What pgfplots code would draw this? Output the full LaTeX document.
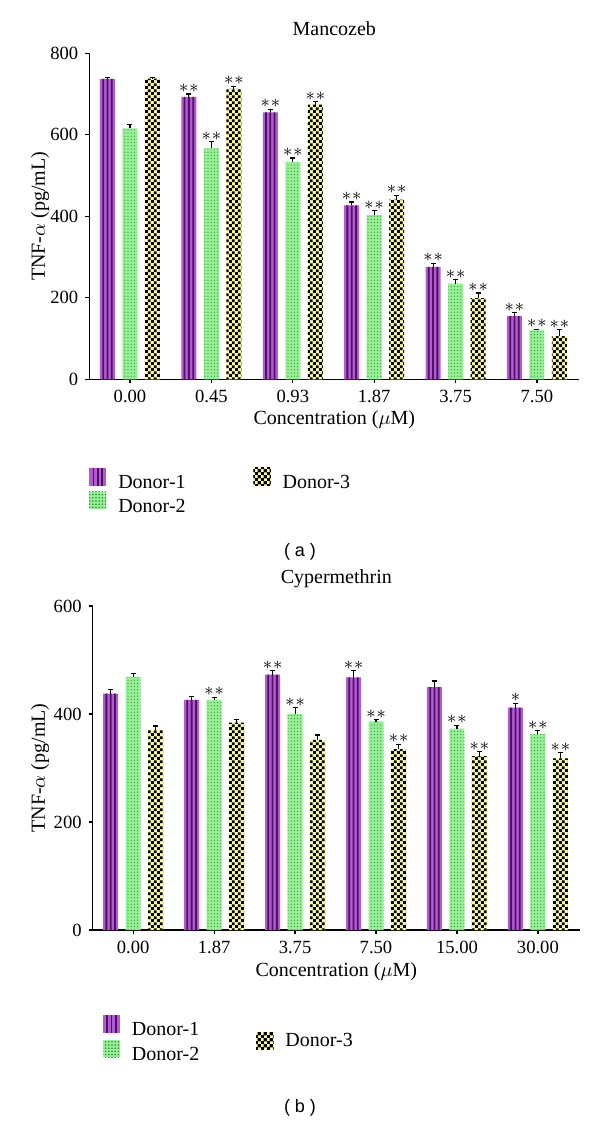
\documentclass[border=0pt]{standalone}
\usepackage{pgfplots}
\pgfplotsset{compat=1.18}
\usepackage{pgfplotstable}
\usepackage{fontspec}
\setmainfont{Liberation Serif}
\newfontfamily\sansf{Liberation Sans}
\usetikzlibrary{patterns}

\definecolor{purA}{RGB}{178,90,212}
\definecolor{purD}{RGB}{78,18,98}
\definecolor{grnA}{RGB}{150,240,150}
\definecolor{grnD}{RGB}{50,140,50}
\definecolor{yelA}{RGB}{250,250,160}

\pgfdeclarepatternformonly{mydots}{\pgfqpoint{-0.4pt}{-0.4pt}}{\pgfqpoint{0.4pt}{0.4pt}}{\pgfqpoint{1.6pt}{1.6pt}}{%
  \pgfpathcircle{\pgfqpoint{0pt}{0pt}}{0.32pt}\pgfusepath{fill}}
\pgfdeclarepatternformonly{mychecker}{\pgfpointorigin}{\pgfqpoint{2.9pt}{2.9pt}}{\pgfqpoint{2.9pt}{2.9pt}}{%
  \pgfpathrectangle{\pgfpointorigin}{\pgfqpoint{1.45pt}{1.45pt}}%
  \pgfpathrectangle{\pgfqpoint{1.45pt}{1.45pt}}{\pgfqpoint{1.45pt}{1.45pt}}%
  \pgfusepath{fill}}

\newcommand\stars[1]{\ifcase#1\relax\or${\ast}$\or${\ast}\mkern1mu{\ast}$\fi}

% Mancozeb
\pgfplotstableread{
x y err s
0 737 4 0
1 693 7 2
2 655 8 2
3 427 8 2
4 276 9 2
5 155 8 2
}\mA
\pgfplotstableread{
x y err s
0 616 9 0
1 567 16 2
2 533 10 2
3 403 11 2
4 235 9 2
5 120 3 2
}\mB
\pgfplotstableread{
x y err s
0 738 3 0
1 713 6 2
2 674 7 2
3 441 11 2
4 199 13 2
5 106 16 2
}\mC
% Cypermethrin
\pgfplotstableread{
x y err s
0 438 8 0
1 426 6 0
2 473 7 2
3 468 12 2
4 450 11 0
5 412 8 1
}\cA
\pgfplotstableread{
x y err s
0 469 6 0
1 426 5 2
2 400 12 2
3 386 4 2
4 373 6 2
5 363 6 2
}\cB
\pgfplotstableread{
x y err s
0 370 8 0
1 384 6 0
2 352 9 0
3 335 9 2
4 322 8 2
5 318 10 2
}\cC

\pgfplotsset{
  mainbar/.style={draw=none,
    error bars/.cd, y dir=plus, y explicit,
      error bar style={black, line width=0.55pt},
      error mark options={rotate=90, black, line width=0.6pt, mark size=1.25pt},
    /pgfplots/.cd,
    point meta=explicit symbolic,
    nodes near coords={\stars{\pgfplotspointmeta}},
    visualization depends on={\thisrow{err}\as\myerr},
    every node near coord/.append style={anchor=south, inner sep=0.5pt,
      font=\fontsize{9.5}{10}\selectfont, black,
      shift={(axis direction cs:0,\myerr)}}},
  stripe/.style={fill=purD, draw=none, bar width=0.9pt, forget plot},
  purlegend/.style={legend image code/.code={
      \fill[purA] (0pt,-1pt) rectangle (8.5pt,7.8pt);
      \fill[purD] (1.65pt,-1pt) rectangle (2.55pt,7.8pt);
      \fill[purD] (3.8pt,-1pt) rectangle (4.7pt,7.8pt);
      \fill[purD] (5.95pt,-1pt) rectangle (6.85pt,7.8pt);}},
  grnlegend/.style={legend image code/.code={
      \fill[grnA] (0pt,-1pt) rectangle (8.5pt,7.8pt);
      \fill[pattern=mydots, pattern color=grnD] (0pt,-1pt) rectangle (8.5pt,7.8pt);}},
  yellegend/.style={legend image code/.code={
      \fill[yelA] (0pt,-1pt) rectangle (8.5pt,7.8pt);
      \fill[pattern=mychecker, pattern color=black] (0pt,-1pt) rectangle (8.5pt,7.8pt);}},
  myaxis/.style={
    scale only axis, ybar, bar width=7.5pt,
    axis x line*=bottom, axis y line*=left,
    xmin=-0.5, xmax=5.52, ymin=0,
    xtick={0,...,5},
    tick align=outside, major tick length=2pt,
    tick style={black, line width=0.6pt},
    axis line style={black, line width=0.65pt},
    tick label style={font=\fontsize{9.3}{11}\selectfont},
    /pgf/number format/assume math mode=true,
    every axis title/.style={font=\fontsize{10}{12}\selectfont, anchor=center},
    every axis x label/.style={font=\fontsize{10}{12}\selectfont, anchor=center},
    every axis y label/.style={font=\fontsize{10}{12}\selectfont, anchor=center, rotate=90},
    xlabel={Concentration ($\mu$M)},
    ylabel={TNF-$\alpha$ (pg/mL)},
    legend columns=2,
    legend cell align=left,
    legend style={anchor=north west, draw=none, fill=none, inner sep=0pt, outer sep=0pt,
      font=\fontsize{10}{12}\selectfont,
      nodes={inner sep=0pt},
      /tikz/every odd column/.append style={column sep=6pt}},
  }
}

\begin{document}
\begin{tikzpicture}
\path[use as bounding box] (0,0) rectangle (300pt,-562.5pt);

\begin{axis}[myaxis, at={(44.65pt,-189.65pt)}, anchor=south west,
  width=245pt, height=163pt, ymax=800, ytick={0,200,...,800},
  xticklabels={0.00,0.45,0.93,1.87,3.75,7.50},
  title={Mancozeb},
  every axis title/.append style={at={(0.5,1.077)}},
  every axis x label/.append style={at={(0.5,-0.125)}},
  every axis y label/.append style={at={(-0.1006,0.5)}},
  legend style={at={(axis description cs:0,-0.272)}, row sep=0pt,
    /tikz/every even column/.append style={column sep=34pt}},
  legend entries={Donor-1,Donor-3,Donor-2}]
\addplot[mainbar, fill=purA, bar shift=-11.25pt, purlegend] table[x=x,y=y,y error=err,meta=s]{\mA};
\addplot[stripe, bar shift=-13.4pt] table[x=x,y=y]{\mA};
\addplot[stripe, bar shift=-11.25pt] table[x=x,y=y]{\mA};
\addplot[stripe, bar shift=-9.1pt] table[x=x,y=y]{\mA};
\addplot[mainbar, fill=yelA, postaction={pattern=mychecker, pattern color=black}, bar shift=11.25pt, yellegend] table[x=x,y=y,y error=err,meta=s]{\mC};
\addplot[mainbar, fill=grnA, postaction={pattern=mydots, pattern color=grnD}, bar shift=0pt, grnlegend] table[x=x,y=y,y error=err,meta=s]{\mB};
\end{axis}

\begin{axis}[myaxis, at={(46.35pt,-465pt)}, anchor=south west,
  width=243.65pt, height=162pt, ymax=600, ytick={0,200,...,600},
  xticklabels={0.00,1.87,3.75,7.50,15.00,30.00},
  title={Cypermethrin},
  every axis title/.append style={at={(0.5,1.085)}},
  every axis x label/.append style={at={(0.5,-0.128)}},
  every axis y label/.append style={at={(-0.108,0.5)}},
  legend style={at={(axis description cs:0.021,-0.263)}, row sep=-5pt,
    /tikz/every even column/.append style={column sep=28.6pt}}]
\addplot[mainbar, fill=purA, bar shift=-11.25pt, purlegend] table[x=x,y=y,y error=err,meta=s]{\cA};
\addlegendentry{Donor-1}
\addplot[stripe, bar shift=-13.4pt] table[x=x,y=y]{\cA};
\addplot[stripe, bar shift=-11.25pt] table[x=x,y=y]{\cA};
\addplot[stripe, bar shift=-9.1pt] table[x=x,y=y]{\cA};
\addplot[mainbar, fill=yelA, postaction={pattern=mychecker, pattern color=black}, bar shift=11.25pt,
  legend image code/.code={
      \fill[yelA] (0pt,-9.5pt) rectangle (8.5pt,-0.7pt);
      \fill[pattern=mychecker, pattern color=black] (0pt,-9.5pt) rectangle (8.5pt,-0.7pt);}] table[x=x,y=y,y error=err,meta=s]{\cC};
\addlegendentry{\raisebox{-8.5pt}[0pt][0pt]{Donor-3}}
\addplot[mainbar, fill=grnA, postaction={pattern=mydots, pattern color=grnD}, bar shift=0pt, grnlegend] table[x=x,y=y,y error=err,meta=s]{\cB};
\addlegendentry{Donor-2}
\end{axis}

\node[font=\sansf\fontsize{9}{11}\selectfont] at (150pt,-276pt) {( a )};
\node[font=\sansf\fontsize{9}{11}\selectfont] at (150pt,-554pt) {( b )};
\end{tikzpicture}
\end{document}
